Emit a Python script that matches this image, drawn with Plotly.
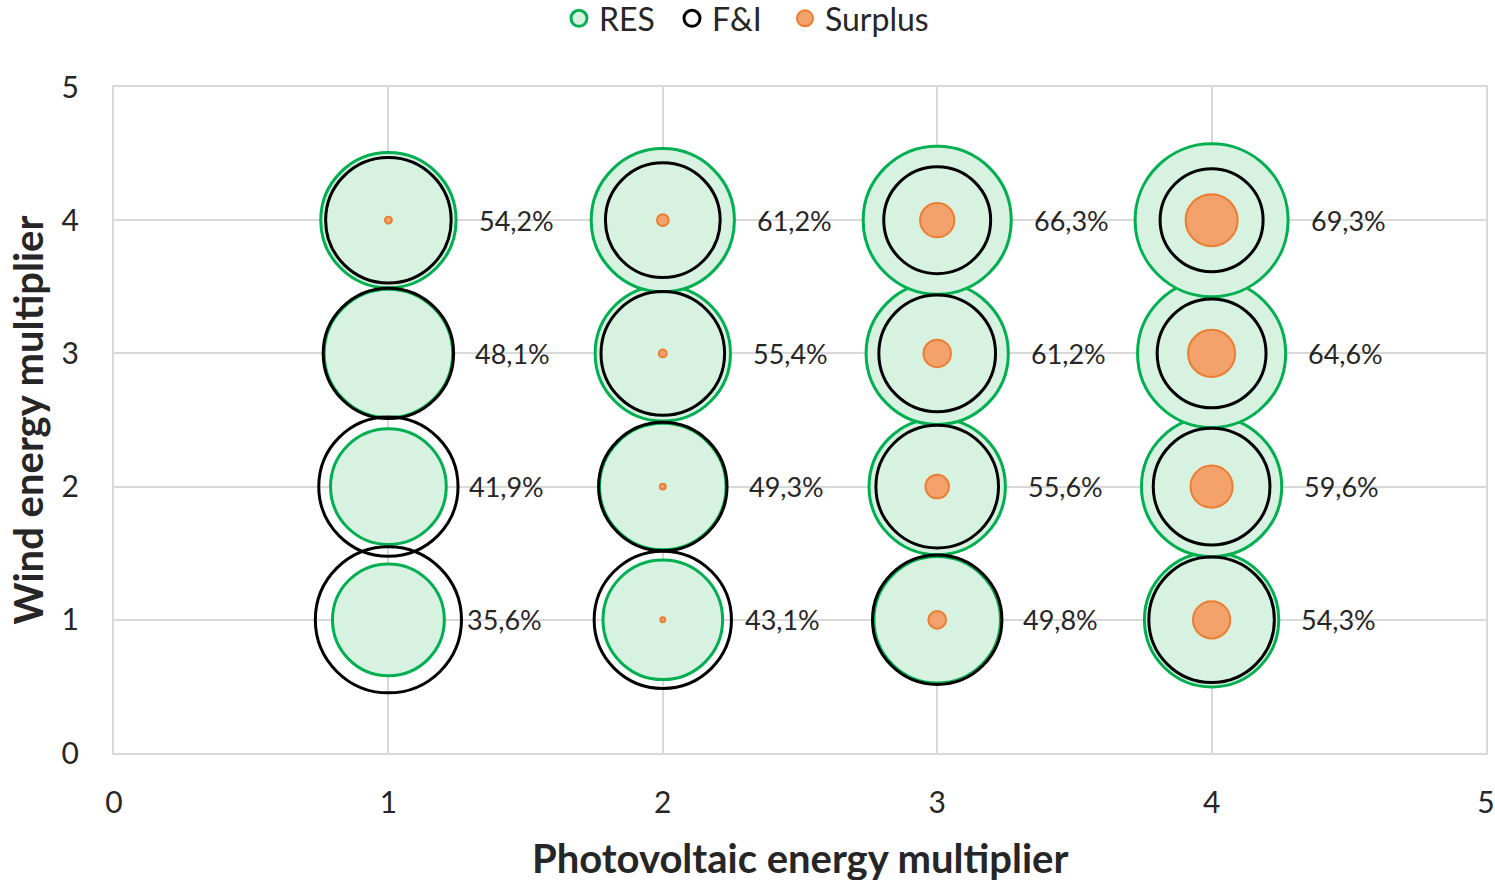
import plotly.graph_objects as go
import math

# ---- data ----
pv_mult = [1, 1, 1, 1, 2, 2, 2, 2, 3, 3, 3, 3, 4, 4, 4, 4]
wind_mult = [1, 2, 3, 4, 1, 2, 3, 4, 1, 2, 3, 4, 1, 2, 3, 4]
res_energy = [1300, 1392, 1716, 1904, 1488, 1664, 1904, 2132,
              1664, 1932, 2103, 2280, 1877, 2045, 2280, 2434]
fi_energy = [2220, 2016, 1769, 1638, 1960, 1716, 1588, 1369,
             1742, 1563, 1416, 1188, 1638, 1416, 1232, 1103]
surplus_energy = [0, 0, 0, 5, 2.5, 3.6, 6.4, 14.4,
                  32.4, 57.6, 78.4, 122.5, 144.4, 184.9, 230.4, 280.9]
share_labels = ["35,6%", "41,9%", "48,1%", "54,2%", "43,1%", "49,3%", "55,4%", "61,2%",
                "49,8%", "55,6%", "61,2%", "66,3%", "54,3%", "59,6%", "64,6%", "69,3%"]
x_ticks = [0, 1, 2, 3, 4, 5]
y_ticks = [0, 1, 2, 3, 4, 5]
x_title = "Photovoltaic energy multiplier"
y_title = "Wind energy multiplier"

# ---- styling ----
FONT = "Lato"
GREEN = "#00B050"
ORANGE = "#ED7D31"
GRID = "#D9D9D9"
TXT = "#262626"
MAX_D = 153  # px diameter of the largest bubble
maxv = max(res_energy + fi_energy + surplus_energy)
sizeref = 2.0 * maxv / MAX_D ** 2

fig = go.Figure()
fig.add_trace(go.Scatter(
    x=pv_mult, y=wind_mult, mode="markers", name="RES", legendwidth=68,
    marker=dict(size=res_energy, sizemode="area", sizeref=sizeref,
                color="#D8F2E2", line=dict(color=GREEN, width=3), opacity=1),
    cliponaxis=False, hoverinfo="skip"))
fig.add_trace(go.Scatter(
    x=pv_mult, y=wind_mult, mode="markers", name="F&I", legendwidth=68,
    marker=dict(size=fi_energy, sizemode="area", sizeref=sizeref,
                color="rgba(0,0,0,0)", line=dict(color="black", width=3), opacity=1),
    cliponaxis=False, hoverinfo="skip"))
fig.add_trace(go.Scatter(
    x=pv_mult, y=wind_mult, mode="markers", name="Surplus", legendwidth=115,
    marker=dict(size=surplus_energy, sizemode="area", sizeref=sizeref,
                color="#F3A26B", line=dict(color=ORANGE, width=2), opacity=1),
    cliponaxis=False, hoverinfo="skip"))

# share labels to the right of each RES bubble
for xv, yv, v, lab in zip(pv_mult, wind_mult, res_energy, share_labels):
    r = 0.5 * MAX_D * math.sqrt(v / maxv)
    fig.add_annotation(x=xv, y=yv, xref="x", yref="y", text=lab, showarrow=False,
                       xanchor="left", yanchor="middle", xshift=r + 20.5,
                       font=dict(family=FONT, size=27, color=TXT))

# x-axis title (placed below the tick labels)
fig.add_annotation(x=0.5, y=0, xref="paper", yref="paper", text="<b>" + x_title + "</b>",
                   showarrow=False, xanchor="center", yanchor="middle", yshift=-105,
                   font=dict(family=FONT, size=40, color=TXT))

fig.update_layout(
    width=1495, height=880,
    margin=dict(l=114, r=9, t=87, b=127, autoexpand=False),
    paper_bgcolor="white", plot_bgcolor="white",
    font=dict(family=FONT, size=30, color=TXT),
    showlegend=True,
    legend=dict(orientation="h", x=0.503, xanchor="center", xref="container",
                y=0.979, yanchor="middle", yref="container",
                font=dict(family=FONT, size=32, color=TXT)),
)
fig.update_xaxes(range=[0, 5], tickvals=x_ticks, showgrid=True, gridcolor=GRID, gridwidth=2,
                 zeroline=False, showline=True, linecolor=GRID, linewidth=2, mirror=True,
                 ticks="", ticklabelstandoff=22, automargin=False,
                 tickfont=dict(family=FONT, size=30, color=TXT))
fig.update_yaxes(range=[0, 5], tickvals=y_ticks, showgrid=True, gridcolor=GRID, gridwidth=2,
                 zeroline=False, showline=True, linecolor=GRID, linewidth=2, mirror=True,
                 ticks="", ticklabelstandoff=27, automargin=False,
                 tickfont=dict(family=FONT, size=30, color=TXT),
                 title=dict(text="<b>" + y_title + "</b>", standoff=6,
                            font=dict(family=FONT, size=40, color=TXT)))

fig.write_html("out.html", config={"displayModeBar": False},
               post_script="document.body.style.margin='0';document.body.style.overflow='hidden';")
